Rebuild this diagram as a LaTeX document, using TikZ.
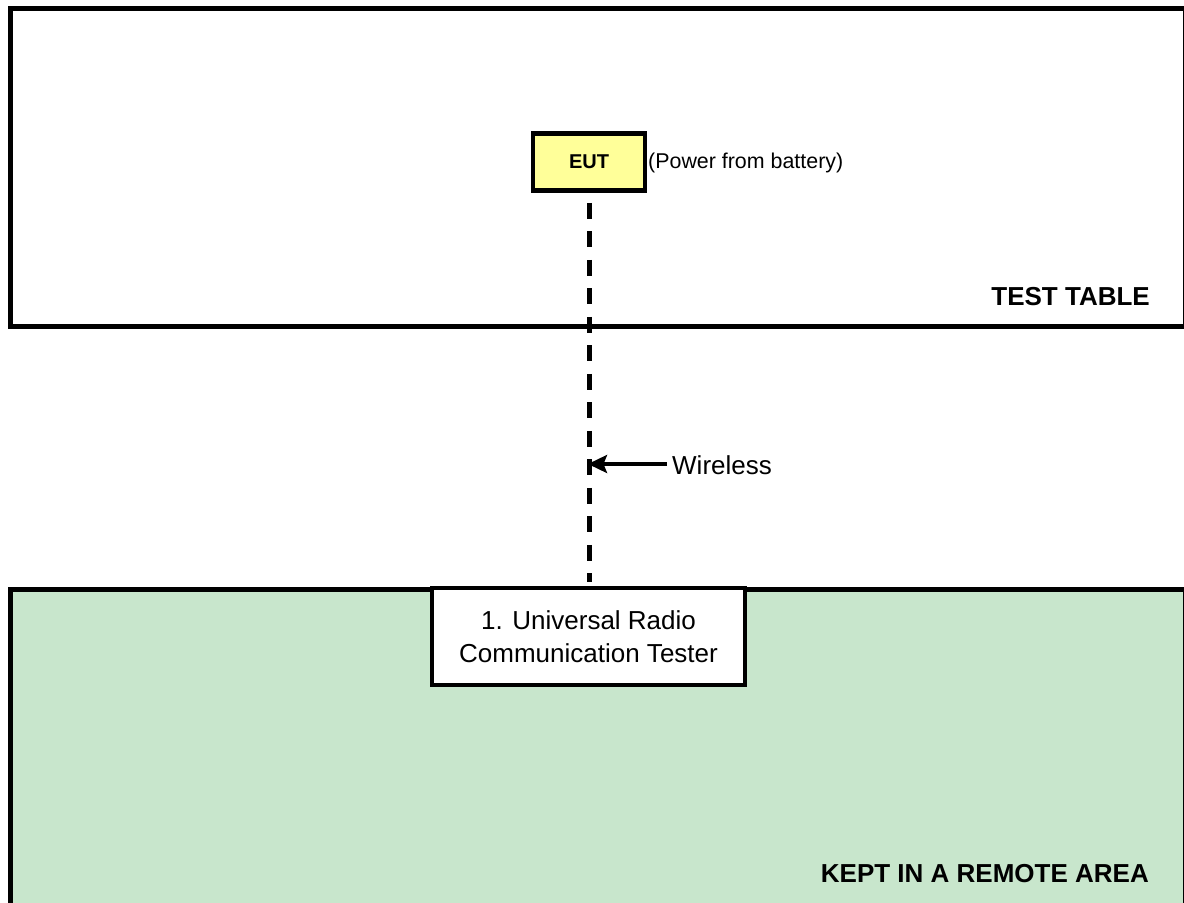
\documentclass[tikz,border=0pt]{standalone}
\usepackage{fontspec}
\setmainfont{Liberation Sans}
\usetikzlibrary{arrows.meta}
\definecolor{eutyellow}{RGB}{255,255,153}
\definecolor{remotegreen}{RGB}{200,230,204}
\begin{document}
\begin{tikzpicture}[x=1bp,y=-1bp,
  area/.style={line width=5bp},
  box/.style={draw,line width=4.5bp,inner sep=0pt,align=center},
  big/.style={font=\fontsize{26bp}{33bp}\selectfont},
  bigbold/.style={font=\fontsize{26bp}{33bp}\selectfont\bfseries},
  plain/.style={inner sep=0pt}]
\useasboundingbox (0,0) rectangle (1184,903);
% test table area
\draw[area] (10,8.5) rectangle (1185,326);
% remote area
\draw[area,fill=remotegreen] (10,589) rectangle (1185,910);
% EUT
\node[box,fill=eutyellow,minimum width=112bp,minimum height=57bp,font=\fontsize{20bp}{24bp}\selectfont\bfseries] (eut) at (589,162) {EUT};
\node[plain,anchor=west,font=\fontsize{21.4bp}{26bp}\selectfont] (pwr) at (648,163) {(Power from battery)};
% tester
\node[box,fill=white,minimum width=313bp,minimum height=97bp,big] (tester) at (588.5,636.5) {1. Universal Radio\\Communication Tester};
% labels
\node[plain,bigbold,anchor=east] (tt) at (1150,297) {TEST TABLE};
\node[plain,bigbold,anchor=east] (kr) at (1149,874) {KEPT IN A REMOTE AREA};
% wireless link
\draw[line width=5bp,dash pattern=on 16bp off 12.5bp,shorten <=10bp,shorten >=4bp] (eut.south) -- (eut.south |- tester.north);
\node[plain,big,anchor=west] (wl) at (672,465) {Wireless};
\coordinate (hit) at (588,464);
\draw[line width=3.5bp,-{Stealth[length=19bp,width=18bp,inset=3.5bp]}] (wl.west |- hit) ++(-5,0) -- (hit);
\end{tikzpicture}
\end{document}
